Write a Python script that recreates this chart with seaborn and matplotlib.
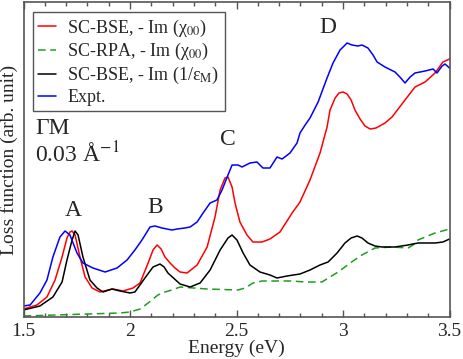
import numpy as np
import pandas as pd
import matplotlib
matplotlib.use("Agg")
import matplotlib.pyplot as plt
from matplotlib.ticker import MultipleLocator
import seaborn as sns

# ---- data (arb. units) ----
e_expt = [1.50, 1.531, 1.577, 1.610, 1.638, 1.671, 1.695, 1.718, 1.751, 1.779, 1.826,
          1.883, 1.939, 1.986, 2.023, 2.056, 2.094, 2.117, 2.150, 2.197, 2.221, 2.258,
          2.282, 2.315, 2.343, 2.376, 2.408, 2.432, 2.460, 2.479, 2.507, 2.526, 2.563,
          2.596, 2.624, 2.657, 2.690, 2.714, 2.751, 2.784, 2.798, 2.822, 2.845, 2.883,
          2.925, 2.953, 2.986, 3.005, 3.019, 3.042, 3.070, 3.089, 3.117, 3.141, 3.160,
          3.197, 3.244, 3.267, 3.291, 3.315, 3.338, 3.385, 3.423, 3.441, 3.465, 3.479, 3.50]
expt = [0.11, 0.12, 0.24, 0.37, 0.60, 0.80, 0.86, 0.82, 0.64, 0.54, 0.49,
        0.45, 0.49, 0.57, 0.67, 0.77, 0.90, 0.91, 0.89, 0.87, 0.88, 0.89,
        0.90, 0.95, 1.04, 1.14, 1.17, 1.27, 1.42, 1.52, 1.52, 1.50, 1.54,
        1.55, 1.49, 1.49, 1.60, 1.58, 1.64, 1.74, 1.84, 1.92, 1.99, 2.15,
        2.39, 2.54, 2.67, 2.71, 2.74, 2.72, 2.71, 2.72, 2.69, 2.62, 2.55,
        2.50, 2.45, 2.40, 2.34, 2.40, 2.44, 2.46, 2.48, 2.44, 2.51, 2.53, 2.49]

e_bse = [1.50, 1.563, 1.610, 1.648, 1.681, 1.704, 1.718, 1.728, 1.742, 1.765, 1.789,
         1.822, 1.859, 1.897, 1.920, 1.967, 2.014, 2.047, 2.085, 2.108, 2.127, 2.146,
         2.164, 2.188, 2.211, 2.235, 2.268, 2.315, 2.362, 2.399, 2.423, 2.446, 2.460,
         2.479, 2.493, 2.516, 2.549, 2.577, 2.620, 2.657, 2.704, 2.761, 2.798, 2.845,
         2.892, 2.925, 2.939, 2.963, 2.981, 3.000, 3.019, 3.038, 3.056, 3.080, 3.103,
         3.127, 3.155, 3.197, 3.230, 3.291, 3.338, 3.385, 3.432, 3.469, 3.50]
bse_chi = [0.08, 0.12, 0.20, 0.37, 0.60, 0.79, 0.85, 0.86, 0.82, 0.60, 0.40,
           0.29, 0.25, 0.27, 0.28, 0.26, 0.29, 0.34, 0.54, 0.67, 0.72, 0.68,
           0.60, 0.54, 0.49, 0.45, 0.44, 0.52, 0.70, 1.00, 1.27, 1.39, 1.40,
           1.30, 1.14, 0.95, 0.82, 0.75, 0.75, 0.78, 0.85, 1.04, 1.15, 1.37,
           1.64, 1.90, 2.07, 2.19, 2.24, 2.25, 2.23, 2.17, 2.07, 1.98, 1.91,
           1.88, 1.89, 1.94, 2.00, 2.17, 2.30, 2.35, 2.44, 2.55, 2.58]

e_eps = [1.50, 1.577, 1.638, 1.681, 1.704, 1.728, 1.742, 1.756, 1.779, 1.812, 1.845,
         1.873, 1.915, 1.953, 2.000, 2.023, 2.070, 2.108, 2.141, 2.160, 2.178, 2.235,
         2.282, 2.329, 2.376, 2.423, 2.460, 2.479, 2.502, 2.531, 2.563, 2.610, 2.657,
         2.690, 2.737, 2.798, 2.845, 2.892, 2.930, 2.972, 3.009, 3.038, 3.066, 3.089,
         3.117, 3.150, 3.183, 3.244, 3.305, 3.352, 3.432, 3.469, 3.50]
bse_eps = [0.07, 0.11, 0.20, 0.35, 0.57, 0.77, 0.86, 0.82, 0.60, 0.37, 0.29,
           0.25, 0.28, 0.26, 0.24, 0.25, 0.39, 0.50, 0.53, 0.50, 0.44, 0.33,
           0.30, 0.34, 0.47, 0.67, 0.79, 0.82, 0.77, 0.64, 0.52, 0.45, 0.42,
           0.39, 0.41, 0.43, 0.47, 0.52, 0.55, 0.64, 0.74, 0.79, 0.81, 0.79,
           0.74, 0.71, 0.70, 0.70, 0.72, 0.74, 0.74, 0.75, 0.78]

e_rpa = [1.50, 1.953, 2.000, 2.047, 2.085, 2.131, 2.164, 2.197, 2.235, 2.362, 2.507,
         2.540, 2.577, 2.620, 2.671, 2.751, 2.831, 2.901, 2.939, 2.977, 3.009, 3.047,
         3.089, 3.150, 3.230, 3.305, 3.329, 3.352, 3.432, 3.50]
rpa_chi = [0.01, 0.04, 0.05, 0.08, 0.14, 0.22, 0.25, 0.27, 0.30, 0.28, 0.27,
           0.29, 0.34, 0.36, 0.36, 0.36, 0.35, 0.35, 0.40, 0.45, 0.50, 0.56,
           0.62, 0.69, 0.70, 0.69, 0.72, 0.77, 0.84, 0.88]

series_labels = ["SC-BSE, - Im (χ$_{00}$)", "SC-RPA, - Im (χ$_{00}$)",
                 "SC-BSE, - Im (1/ε$_\\mathrm{M}$)", "Expt."]
series_colors = ["#ff0000", "#1e9e1e", "#000000", "#0000ff"]

peak_labels = ["A", "B", "C", "D"]
peak_e = [1.732, 2.117, 2.46, 2.93]
peak_y = [1.07, 1.10, 1.78, 2.90]

sns.set_theme(style="ticks")
plt.rcParams["font.family"] = ["Liberation Serif", "DejaVu Serif"]
plt.rcParams["mathtext.fontset"] = "stix"

fig = plt.figure(figsize=(4.63, 3.59), dpi=100)
ax = fig.add_axes([0.0508, 0.117, 0.9201, 0.8774])

frames = [
    pd.DataFrame({"E": e_bse, "L": bse_chi, "s": series_labels[0]}),
    pd.DataFrame({"E": e_rpa, "L": rpa_chi, "s": series_labels[1]}),
    pd.DataFrame({"E": e_eps, "L": bse_eps, "s": series_labels[2]}),
    pd.DataFrame({"E": e_expt, "L": expt, "s": series_labels[3]}),
]
df = pd.concat(frames, ignore_index=True)

sns.lineplot(data=df, x="E", y="L", hue="s", style="s",
             palette=dict(zip(series_labels, series_colors)),
             dashes={series_labels[0]: "", series_labels[1]: (5, 3),
                     series_labels[2]: "", series_labels[3]: ""},
             estimator=None, sort=False, lw=1.1, ax=ax)

ax.set_xlim(1.5, 3.5)
ax.set_ylim(0, 3.15)
ax.set_yticks([])
ax.xaxis.set_major_locator(MultipleLocator(0.5))
ax.xaxis.set_minor_locator(MultipleLocator(0.1))
ax.set_xticks([1.5, 2.0, 2.5, 3.0, 3.5], ["1.5", "2", "2.5", "3", "3.5"])
ax.tick_params(axis="x", which="both", direction="in", top=True, bottom=True,
               labelsize=14, color="#555555", width=1.0, pad=4)
ax.tick_params(axis="x", which="major", length=5)
ax.tick_params(axis="x", which="minor", length=3)
for sp in ax.spines.values():
    sp.set_visible(True)
    sp.set_color("#555555")
    sp.set_linewidth(1.2)

ax.set_xlabel("Energy (eV)", fontsize=14, labelpad=0)
ax.set_ylabel("Loss function (arb. unit)", fontsize=14, labelpad=4)

for lab, x, y in zip(peak_labels, peak_e, peak_y):
    ax.text(x, y, lab, fontsize=17, ha="center", va="center")
ax.text(1.554, 1.89, "ΓM", fontsize=17, ha="left", va="center")
ax.text(1.554, 1.62, "0.03 Å$^{-1}$", fontsize=17, ha="left", va="center")

handles, labels = ax.get_legend_handles_labels()
leg = ax.legend(handles, labels, loc="upper left", bbox_to_anchor=(0.022, 0.968),
                borderaxespad=0, fontsize=13, handlelength=1.0, handletextpad=0.6,
                labelspacing=0.15, borderpad=0.3, fancybox=False, framealpha=1)
leg.get_frame().set_edgecolor("#555555")
leg.get_frame().set_linewidth(1.0)

fig.savefig("out.png", dpi=100)
